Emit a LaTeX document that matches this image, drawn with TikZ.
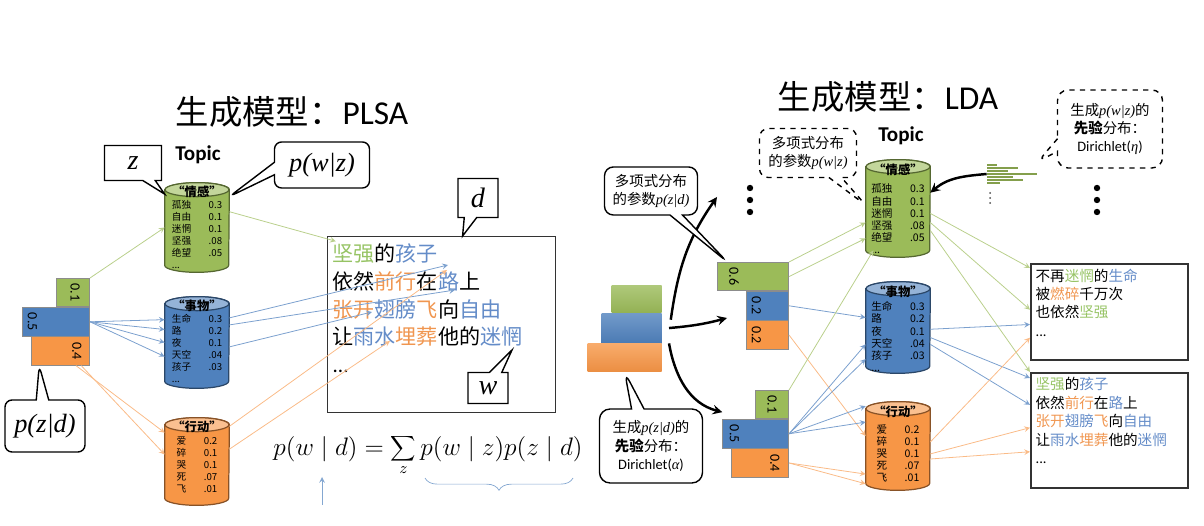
\documentclass[tikz,border=0pt]{standalone}
\usepackage{fontspec}
\setmainfont{Noto Sans CJK SC}
\newfontfamily\lat{Carlito}
\newfontfamily\tms{Liberation Serif}
\usetikzlibrary{shapes.geometric, shapes.callouts, arrows, positioning, decorations.pathreplacing}

\definecolor{grn}{RGB}{155,187,89}
\definecolor{blu}{RGB}{79,129,189}
\definecolor{org}{RGB}{247,150,70}
\definecolor{wgrn}{RGB}{150,195,100}
\definecolor{wblu}{RGB}{100,140,200}
\definecolor{worg}{RGB}{240,150,80}

\newcommand{\emorows}{\begin{tabular}{@{}l@{\hspace{10pt}}r@{}}孤独&0.3\\自由&0.1\\迷惘&0.1\\坚强&.08\\绝望&.05\\...&\end{tabular}}
\newcommand{\thingrows}{\begin{tabular}{@{}l@{\hspace{10pt}}r@{}}生命&0.3\\路&0.2\\夜&0.1\\天空&.04\\孩子&.03\\...&\end{tabular}}
\newcommand{\actrows}{\begin{tabular}{@{}l@{\hspace{10pt}}r@{}}爱&0.2\\碎&0.1\\哭&0.1\\死&.07\\飞&.01\end{tabular}}
\newcommand{\poem}{\textcolor{wgrn}{坚强}的\textcolor{wblu}{孩子}\\依然\textcolor{worg}{前行}在\textcolor{wblu}{路}上\\\textcolor{worg}{张开}\textcolor{wblu}{翅膀}\textcolor{worg}{飞}向\textcolor{wblu}{自由}\\让\textcolor{wblu}{雨水}\textcolor{worg}{埋葬}他的\textcolor{wblu}{迷惘}\\{\lat ...}}

\begin{document}
\begin{tikzpicture}[x=0.02cm, y=-0.02cm, >=stealth]
    \tikzstyle{title} = [font=\fontsize{19}{19}\selectfont]
    \tikzstyle{topichead} = [font=\lat\bfseries\fontsize{12}{12}\selectfont]
    \tikzstyle{topic} = [rectangle, minimum width=1.28cm, minimum height=1.5cm, inner sep=0]
    \tikzstyle{tname} = [font=\bfseries\fontsize{7}{7}\selectfont, inner sep=0]
    \tikzstyle{trows} = [font=\fontsize{5.5}{6.8}\selectfont, inner sep=0, anchor=north]
    \tikzstyle{bar} = [rectangle, draw=black!45, minimum height=0.57cm, inner sep=0, anchor=north east]
    \tikzstyle{num} = [font=\lat\fontsize{8}{8}\selectfont, rotate=-90, inner sep=0]
    \tikzstyle{doc} = [rectangle, draw=black!80, line width=0.8pt, anchor=north west, inner sep=0]
    \tikzstyle{doctext} = [align=left, inner sep=0, anchor=north west]
    \tikzstyle{say} = [rectangle callout, draw, fill=white, line width=0.8pt, inner sep=0, align=center]
    \tikzstyle{link} = [->, line width=0.45pt]
    \tikzstyle{curvearrow} = [->, line width=1.4pt]

    \useasboundingbox (0,0) rectangle (1204,526);

    % ---- PLSA ----
    \node[title] (plsa) at (292,112) {生成模型：{\lat PLSA}};
    \node[topichead] (tpl) at (198,155) {Topic};

    \node[topic] (t1) at (197,227.5) {};
    \node[topic, minimum height=1.54cm] (t2) at (197,342.5) {};
    \node[topic, minimum height=1.46cm] (t3) at (197,461.5) {};

    % ---- LDA cylinders ----
    \node[topic, minimum height=1.66cm] (r1) at (898,208.5) {};
    \node[topic, minimum height=1.54cm] (r2) at (898,327.5) {};
    \node[topic, minimum height=1.48cm] (r3) at (898,446) {};

    \foreach \n/\c in {t1/grn, t2/blu, t3/org, r1/grn, r2/blu, r3/org} {
        \filldraw[fill=\c, draw=\c!55!black, line width=0.7pt] (\n.north west) -- (\n.south west)
            arc[start angle=180, end angle=360, x radius=0.64cm, y radius=0.14cm] -- (\n.north east)
            arc[start angle=0, end angle=180, x radius=0.64cm, y radius=0.14cm] -- cycle;
        \filldraw[fill=\c!60!white, draw=\c!55!black, line width=0.7pt] (\n.north) ellipse [x radius=0.64cm, y radius=0.14cm];
    }

    \node[tname] (t1n) at ([yshift=-1pt]t1.north) {“情感”};
    \node[tname] (t2n) at ([yshift=-1pt]t2.north) {“事物”};
    \node[tname] (t3n) at ([yshift=-1pt]t3.north) {“行动”};
    \node[trows] (t1r) at ([yshift=-6pt]t1.north) {\emorows};
    \node[trows] (t2r) at ([yshift=-6pt]t2.north) {\thingrows};
    \node[trows] (t3r) at ([yshift=-6.5pt]t3.north) {\actrows};

    \node[bar, fill=grn, minimum width=0.66cm] (pg) at (90,278) {};
    \node[bar, fill=blu, minimum width=1.34cm] (pb) at (pg.south east) {};
    \node[bar, fill=org, minimum width=1.16cm] (po) at (pb.south east) {};
    \node[num] (pgn) at ([xshift=-8.5pt]pg.east) {0.1};
    \node[num] (pbn) at ([xshift=5.7pt]pb.west) {0.5};
    \node[num] (pon) at ([xshift=-7.4pt]po.east) {0.4};

    \node[doc, minimum width=4.56cm, minimum height=3.52cm] (doc1) at (327,236) {};
    \node[doctext, font=\fontsize{12}{15.9}\selectfont] (doc1t) at ([xshift=3pt,yshift=-4pt]doc1.north west) {\poem};

    \coordinate (e1) at (448,265);
    \coordinate (e2) at (455,290);
    \coordinate (e3) at (372,312);
    \coordinate (e4) at (447,270);
    \coordinate (e5) at (390,341);
    \coordinate (wtip) at (512,350);

    \draw[link, grn!70!white] (pg.north east) -- (t1.west);
    \draw[link, blu!75!white] (pb.east) -- ([yshift=13pt]t2.west);
    \draw[link, blu!75!white] (pb.east) -- ([yshift=7.4pt]t2.west);
    \draw[link, blu!75!white] (pb.east) -- (t2.west);
    \draw[link, blu!75!white] (pb.east) -- ([yshift=-8pt]t2.west);
    \draw[link, org!65!white] ([xshift=-8pt]po.south east) -- ([yshift=16.4pt]t3.west);
    \draw[link, org!65!white] ([xshift=-5pt]po.south east) -- ([yshift=4pt]t3.west);

    \draw[link, grn!70!white] ([yshift=9pt]t1.east) -- ([xshift=5pt,yshift=-3pt]doc1.north west);
    \draw[link, blu!75!white] ([yshift=14pt]t2.east) -- (e1);
    \draw[link, blu!75!white] ([yshift=10pt]t2.east) -- (e2);
    \draw[link, blu!75!white] ([yshift=-2.5pt]t2.east) -- (e3);
    \draw[link, org!65!white] ([yshift=20pt]t3.east) -- (e4);
    \draw[link, org!65!white] ([yshift=7pt]t3.east) -- (e5);

    \node[say, minimum width=1.14cm, minimum height=0.7cm, callout absolute pointer={([yshift=19pt]t1.west)}, font=\tms\itshape\fontsize{16}{16}\selectfont] (zc) at (133,163) {z};
    \node[say, rounded corners=4pt, minimum width=1.9cm, minimum height=0.92cm, callout absolute pointer={([yshift=17.6pt]t1.east)}, font=\tms\itshape\fontsize{15}{15}\selectfont] (pwz) at (322,165) {p(w|z)};
    \node[say, minimum width=0.8cm, minimum height=0.78cm, callout absolute pointer={([xshift=11.9pt]doc1.north)}, font=\tms\itshape\fontsize{16}{16}\selectfont] (dc) at (478,198) {d};
    \node[say, minimum width=0.8cm, minimum height=0.62cm, callout absolute pointer={(wtip)}, font=\tms\itshape\fontsize{16}{16}\selectfont] (wc) at (488,388) {w};
    \node[say, rounded corners=4pt, minimum width=1.6cm, minimum height=1.04cm, callout absolute pointer={([xshift=4.5pt]po.south west)}, font=\tms\itshape\fontsize{15}{15}\selectfont] (pzd) at (45,426) {p(z|d)};

    \node[font=\fontsize{13.5}{16}\selectfont] (frm) at (428,455) {$\displaystyle p(w\mid d)=\sum_z p(w\mid z)p(z\mid d)$};
    \coordinate (bl) at (425,478);
    \coordinate (br) at (573,478);
    \coordinate (ua) at (322,505);
    \coordinate (ub) at (322,477);
    \draw[blu!70!white, decorate, decoration={brace, amplitude=7pt}] (br) -- (bl);
    \draw[link, blu!70!white] (ua) -- (ub);

    % ---- LDA ----
    \node[title] (lda) at (888,97) {生成模型：{\lat LDA}};
    \node[topichead] (tld) at (901,136) {Topic};

    \node[tname] (r1n) at ([yshift=-1.5pt]r1.north) {“情感”};
    \node[tname] (r2n) at ([yshift=-1.5pt]r2.north) {“事物”};
    \node[tname] (r3n) at ([yshift=-1.5pt]r3.north) {“行动”};
    \node[trows, font=\fontsize{6}{6.6}\selectfont] (r1r) at ([yshift=-9.6pt]r1.north) {\emorows};
    \node[trows, font=\fontsize{6}{6.6}\selectfont] (r2r) at ([yshift=-7pt]r2.north) {\thingrows};
    \node[trows, font=\fontsize{6}{6.6}\selectfont] (r3r) at ([yshift=-9pt]r3.north) {\actrows};

    \node[bar, fill=grn, minimum width=1.42cm] (b1g) at (789,262) {};
    \node[bar, fill=blu, minimum width=0.84cm] (b1b) at (b1g.south east) {};
    \node[bar, fill=org, minimum width=0.84cm] (b1o) at (b1b.south east) {};
    \node[num] (b1gn) at ([xshift=9.6pt]b1g.west) {0.6};
    \node[num] (b1bn) at ([xshift=5.7pt]b1b.west) {0.2};
    \node[num] (b1on) at ([xshift=5.7pt]b1o.west) {0.2};

    \node[bar, fill=grn, minimum width=0.66cm] (b2g) at (789,390) {};
    \node[bar, fill=blu, minimum width=1.32cm] (b2b) at (b2g.south east) {};
    \node[bar, fill=org, minimum width=1.14cm] (b2o) at (b2b.south east) {};
    \node[num] (b2gn) at (b2g.center) {0.1};
    \node[num] (b2bn) at ([xshift=6.8pt]b2b.west) {0.5};
    \node[num] (b2on) at ([xshift=-8pt]b2o.east) {0.4};

    \node[bar, draw=none, top color=grn!80!white, bottom color=grn!95!black, minimum width=1cm, minimum height=0.54cm] (a1g) at (662,285) {};
    \node[bar, draw=none, top color=blu!80!white, bottom color=blu!95!black, minimum width=1.2cm, minimum height=0.6cm] (a1b) at (a1g.south east) {};
    \node[bar, draw=none, top color=org!80!white, bottom color=org!95!black, minimum width=1.48cm, minimum height=0.56cm] (a1o) at (a1b.south east) {};

    \node[minimum width=1cm, minimum height=0.46cm, inner sep=0] (beta) at (1012,174) {};
    \foreach \y/\l in {164/10, 167/31, 170/21, 173/50, 176/26, 179/36, 182/13}
        \fill[grn!85!black] (987,\y) rectangle ++(\l,2.2);
    \foreach \y in {193,198,203}
        \fill[black!70] (990,\y) circle (1);
    \foreach \y in {188,200,212}
        \fill (750,\y) circle (3.2);
    \foreach \y in {188,200,212}
        \fill (1097,\y) circle (3.2);

    \node[doc, line width=1.3pt, minimum width=3.14cm, minimum height=1.92cm] (d1) at (1030,263) {};
    \node[doc, line width=1.3pt, minimum width=3.14cm, minimum height=2.3cm] (d2) at (1030,372) {};
    \node[doctext, font=\fontsize{8.3}{10.5}\selectfont] (d1t) at ([xshift=3pt,yshift=-3pt]d1.north west) {不再\textcolor{wgrn}{迷惘}的\textcolor{wblu}{生命}\\被\textcolor{worg}{燃碎}千万次\\也依然\textcolor{wgrn}{坚强}\\{\lat ...}};
    \node[doctext, font=\fontsize{8.3}{10.5}\selectfont] (d2t) at ([xshift=3pt,yshift=-3pt]d2.north west) {\poem};

    \coordinate (up) at (717,197);
    \coordinate (mid) at (727,318);
    \draw[curvearrow] ([xshift=5pt,yshift=-4pt]a1b.north east) to[out=82, in=-125] (up);
    \draw[curvearrow] ([xshift=4pt]a1b.east) to[out=5, in=195] (mid);
    \draw[curvearrow] ([xshift=4pt]a1o.north east) to[out=-80, in=165] ([yshift=4pt]b2b.north west);
    \draw[curvearrow] (beta.west) to[out=185, in=40] ([yshift=9pt]r1.east);

    \draw[link, grn!70!white] (b1g.north east) -- ([yshift=-8pt]r1.west);
    \draw[link, grn!70!white] (b1g.east) -- ([yshift=-17pt]r1.west);
    \draw[link, blu!75!white] (b1b.east) -- ([yshift=5.7pt]r2.west);
    \draw[link, org!65!white] (b1o.east) -- ([yshift=5.7pt]r3.west);
    \draw[link, grn!70!white] (b2g.north east) -- ([xshift=-14pt]r1.south);
    \draw[link, blu!75!white] (b2b.east) -- ([yshift=-9.6pt]r2.west);
    \draw[link, blu!75!white] (b2b.east) -- ([yshift=-18pt]r2.west);
    \draw[link, blu!75!white] (b2b.east) -- ([yshift=22.7pt]r3.west);
    \draw[link, blu!75!white] (b2b.east) -- ([yshift=13.6pt]r3.west);
    \draw[link, org!65!white] (b2o.east) -- ([yshift=-16pt]r3.west);
    \draw[link, org!65!white] (b2o.east) -- ([yshift=-21.5pt]r3.west);

    \draw[link, grn!70!white] ([yshift=-2.8pt]r1.east) -- ([yshift=-2.8pt]d1.north west);
    \draw[link, grn!70!white] ([yshift=-8pt]r1.east) -- ([yshift=-26.6pt]d1.north west);
    \draw[link, grn!70!white] ([yshift=-12.5pt]r1.east) -- (d2.north west);
    \draw[link, blu!75!white] ([yshift=-1pt]r2.east) -- ([yshift=-35pt]d1.north west);
    \draw[link, blu!75!white] ([yshift=-5.7pt]r2.east) -- ([yshift=-3.4pt]d2.north west);
    \draw[link, blu!75!white] ([yshift=-9.6pt]r2.east) -- ([yshift=-18.7pt]d2.north west);
    \draw[link, org!65!white] ([yshift=2.3pt]r3.east) -- ([yshift=-42.5pt]d1.north west);
    \draw[link, org!65!white] ([yshift=-4.5pt]r3.east) -- ([yshift=-31.7pt]d2.north west);
    \draw[link, org!65!white] ([yshift=-7.4pt]r3.east) -- ([yshift=-45.4pt]d2.north west);

    \node[say, dashed, rounded corners=5pt, minimum width=1.94cm, minimum height=0.98cm, callout absolute pointer={([yshift=2pt]r1.west)}, font=\fontsize{8.2}{10.8}\selectfont] (pwzr) at (808,153) {多项式分布\\的参数{\tms\itshape p(w|z)}};
    \node[say, rounded corners=5pt, minimum width=1.86cm, minimum height=0.96cm, callout absolute pointer={([xshift=5.7pt]b1g.north west)}, font=\fontsize{8.2}{10.8}\selectfont] (pzdr) at (651,191) {多项式分布\\的参数{\tms\itshape p(z|d)}};
    \node[say, rounded corners=6pt, minimum width=2.06cm, minimum height=1.48cm, callout absolute pointer={(a1o.south)}, font=\fontsize{8.2}{10.4}\selectfont] (alp) at (651,446) {生成{\tms\itshape p(z|d)}的\\\textbf{先验}分布：\\{\lat Dirichlet(}{\tms\itshape α}{\lat )}};
    \node[say, dashed, rounded corners=6pt, minimum width=2.1cm, minimum height=1.56cm, callout absolute pointer={(beta.north east)}, font=\fontsize{8.2}{10.4}\selectfont] (eta) at (1110,129) {生成{\tms\itshape p(w|z)}的\\\textbf{先验}分布：\\{\lat Dirichlet(}{\tms\itshape η}{\lat )}};
\end{tikzpicture}
\end{document}
